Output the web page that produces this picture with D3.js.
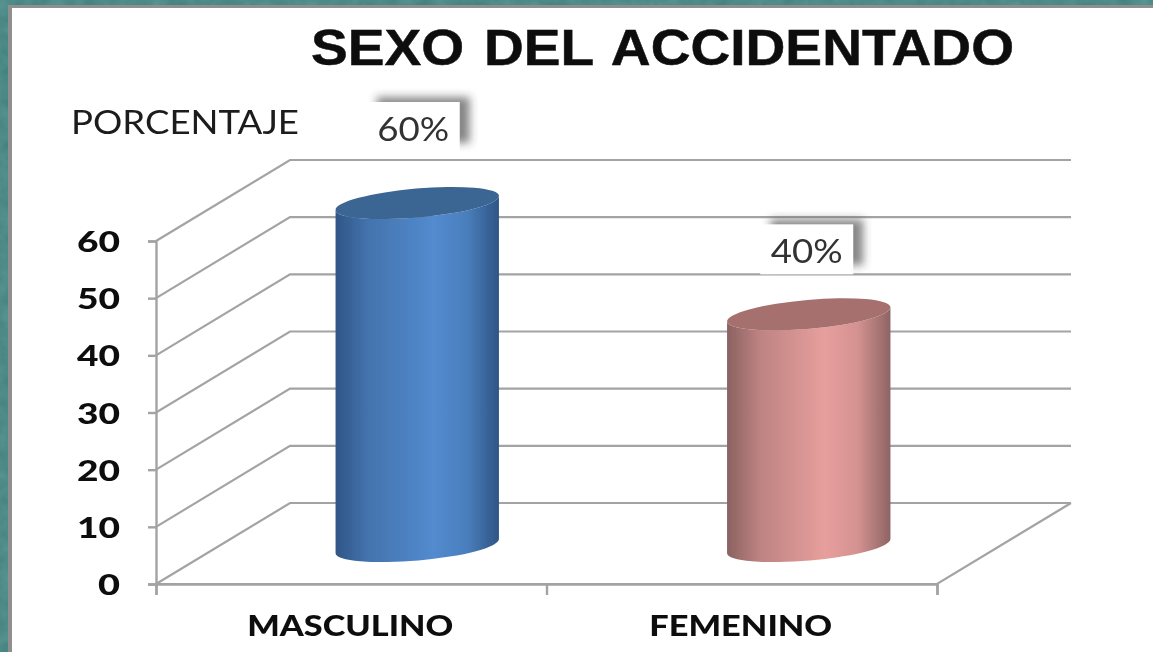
<!DOCTYPE html>
<html><head><meta charset="utf-8">
<script src="https://cdn.jsdelivr.net/npm/d3@7"></script>
<style>html,body{margin:0;padding:0;background:#fff;overflow:hidden}svg{display:block}</style>
</head><body><svg id="c" width="1153" height="652"></svg>
<script>
const categories = ["MASCULINO", "FEMENINO"];
const values = [60, 40];
const valueLabels = ["60%", "40%"];
const yTicks = [0, 10, 20, 30, 40, 50, 60];
const chartTitle = "SEXO DEL ACCIDENTADO";
const yAxisTitle = "PORCENTAJE";
const seriesStyles = [
  {id:"blue", stops:["#2f5686","#4473ad","#528bcf","#4a7fbd","#2f5585"], top:"#3b6593"},
  {id:"red",  stops:["#8a6261","#bd8382","#e79f9d","#d49290","#8d6463"], top:"#a5706d"}
];

const svg = d3.select("#c");
const defs = svg.append("defs");
const depth = {dx:134, dy:-81};
const y = d3.scaleLinear().domain([0,60]).range([584,241]);
const x = d3.scaleBand().domain(categories).range([156,937]).padding(0);
const grid = "#a3a3a3";

seriesStyles.forEach(s=>{
  const g = defs.append("linearGradient").attr("id","g-"+s.id).attr("x1",0).attr("x2",1).attr("y1",0).attr("y2",0);
  const offs=[0,0.2,0.6,0.8,1];
  s.stops.forEach((c,i)=>g.append("stop").attr("offset",offs[i]).attr("stop-color",c));
});
const tex = defs.append("filter").attr("id","tex").attr("x",0).attr("y",0).attr("width","100%").attr("height","100%");
tex.append("feTurbulence").attr("type","fractalNoise").attr("baseFrequency",0.06).attr("numOctaves",3).attr("seed",4);
tex.append("feColorMatrix").attr("values","0 0 0 0 0.19  0 0 0 0 0.43  0 0 0 0 0.42  0.5 0 0 0 0.05");
defs.append("filter").attr("id","soft").append("feGaussianBlur").attr("stdDeviation",0.55);
defs.append("filter").attr("id","shadow").attr("x","-30%").attr("y","-30%").attr("width","160%").attr("height","160%")
  .append("feGaussianBlur").attr("stdDeviation",4);

svg.append("rect").attr("width",1153).attr("height",652).attr("fill","#3b7b78");
svg.append("rect").attr("width",1153).attr("height",652).attr("filter","url(#tex)");
svg.append("rect").attr("x",8).attr("y",5).attr("width",1145).attr("height",647).attr("fill","#8f8f8f");
svg.append("rect").attr("x",12).attr("y",8).attr("width",1141).attr("height",644).attr("fill","#fff");

const root = svg.append("g").attr("filter","url(#soft)");

const frontL = x.range()[0], frontR = x.range()[1];
const gridG = root.append("g").attr("fill","none").attr("stroke",grid).attr("stroke-width",2.2);
gridG.selectAll("path.g").data(yTicks).join("path").attr("class","g")
  .attr("d",t=>d3.line()([[frontL,y(t)],[frontL+depth.dx,y(t)+depth.dy],[frontR+depth.dx,y(t)+depth.dy]]));
gridG.append("path").attr("d",d3.line()([[frontL,y(0)],[frontR,y(0)],[frontR+depth.dx,y(0)+depth.dy]]));

root.append("g").attr("transform",`translate(${frontL},0)`).call(d3.axisLeft(y).tickValues(yTicks).tickSize(8).tickFormat(""));
const edges = d3.scaleLinear().domain([0,categories.length]).range(x.range());
root.append("g").attr("transform",`translate(0,${y(0)})`)
  .call(d3.axisBottom(edges).tickValues(d3.range(categories.length+1)).tickSize(11).tickFormat(""));
root.selectAll(".domain,.tick line").attr("stroke",grid).attr("stroke-width",2.4);

root.append("g").selectAll("text").data(yTicks).join("text")
  .attr("x",120).attr("y",t=>y(t)+11).attr("text-anchor","end")
  .attr("font-family","Lato").attr("font-weight",900).attr("font-size",29).attr("fill","#111")
  .attr("lengthAdjust","spacingAndGlyphs").attr("textLength",t=>t===0?22:43)
  .text(t=>t);
root.append("g").selectAll("text").data(categories).join("text")
  .attr("x",d=>x(d)+x.bandwidth()/2-1).attr("y",636).attr("text-anchor","middle")
  .attr("font-family","Lato").attr("font-weight",900).attr("font-size",28).attr("fill","#111")
  .attr("lengthAdjust","spacingAndGlyphs").attr("textLength",(d,i)=>i===0?206:183)
  .text(d=>d);

const rx=82, ry=14.5, tilt=-5;
const ex=rx*Math.cos(tilt*Math.PI/180), ey=rx*Math.sin(tilt*Math.PI/180);
const baseShift={x:67, y:-38};
const topNudge=[0,-3];
const bars = root.append("g").selectAll("g").data(categories).join("g");
bars.each(function(d,i){
  const g=d3.select(this), s=seriesStyles[i];
  const cx=x(d)+x.bandwidth()/2+baseShift.x-(i?0:1);
  const by=y(0)+baseShift.y, ty=y(values[i])+baseShift.y+topNudge[i];
  const arc=`A${rx} ${ry} ${tilt}`;
  g.append("path").attr("fill",`url(#g-${s.id})`)
    .attr("d",`M${cx-ex} ${ty-ey}${arc} 0 0 ${cx+ex} ${ty+ey}L${cx+ex} ${by+ey}${arc} 0 1 ${cx-ex} ${by-ey}Z`);
  g.append("ellipse").attr("cx",cx).attr("cy",ty).attr("rx",rx).attr("ry",ry)
    .attr("transform",`rotate(${tilt} ${cx} ${ty})`).attr("fill",s.top);
});

const labelBoxes=[{dx:62,dy:-139},{dx:65,dy:-131}];
categories.forEach((d,i)=>{
  const w=93, h=50;
  const cx=x(d)+x.bandwidth()/2+labelBoxes[i].dx;
  const ty=y(values[i])+labelBoxes[i].dy;
  root.append("rect").attr("x",cx-w/2+10).attr("y",ty-5).attr("width",w).attr("height",h-4)
    .attr("fill","#555").attr("opacity",0.7).attr("filter","url(#shadow)");
  root.append("rect").attr("x",cx-w/2).attr("y",ty).attr("width",w).attr("height",h).attr("fill","#fff");
  root.append("text").attr("x",cx).attr("y",ty+39).attr("text-anchor","middle")
    .attr("font-family","Lato").attr("font-size",32).attr("fill","#333")
    .attr("lengthAdjust","spacingAndGlyphs").attr("textLength",72)
    .text(valueLabels[i]);
});

root.append("text").attr("x",311).attr("y",65)
  .attr("font-family","Liberation Sans").attr("font-weight",700).attr("font-size",50).attr("fill","#111")
  .attr("stroke","#111").attr("stroke-width",0.5).attr("word-spacing",4)
  .attr("lengthAdjust","spacingAndGlyphs").attr("textLength",703).text(chartTitle);
root.append("text").attr("x",71).attr("y",134)
  .attr("font-family","Lato").attr("font-size",32).attr("fill","#1a1a1a")
  .attr("lengthAdjust","spacingAndGlyphs").attr("textLength",228).text(yAxisTitle);
</script></body></html>
